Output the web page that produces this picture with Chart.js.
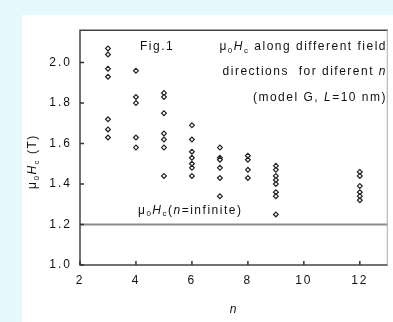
<!DOCTYPE html>
<html>
<head>
<meta charset="utf-8">
<script src="https://cdn.jsdelivr.net/npm/chart.js@4.4.1/dist/chart.umd.min.js"></script>
<style>
  html, body { margin: 0; padding: 0; width: 393px; height: 322px; overflow: hidden; background: #e3f9fb; }
  #panel { position: absolute; left: 22px; top: 15px; width: 371px; height: 307px; background: #fff; }
</style>
</head>
<body>
<div id="panel"><canvas id="chart" width="371" height="307"></canvas></div>
<script>
// ---- data ----
const nValues = [3, 4, 5, 6, 7, 8, 9, 12];
const hcN3  = [2.07, 2.04, 1.97, 1.93, 1.72, 1.67, 1.63];
const hcN4  = [1.96, 1.83, 1.80, 1.63, 1.58];
const hcN5  = [1.85, 1.83, 1.75, 1.65, 1.62, 1.58, 1.44];
const hcN6  = [1.69, 1.62, 1.56, 1.53, 1.50, 1.48, 1.44];
const hcN7  = [1.58, 1.53, 1.52, 1.48, 1.43, 1.34];
const hcN8  = [1.54, 1.52, 1.47, 1.43];
const hcN9  = [1.49, 1.47, 1.44, 1.42, 1.40, 1.36, 1.34, 1.25];
const hcN12 = [1.46, 1.44, 1.39, 1.36, 1.34, 1.32];
const hcByN = [hcN3, hcN4, hcN5, hcN6, hcN7, hcN8, hcN9, hcN12];
const hcInfinite = 1.2;           // mu0Hc for n = infinite
const xRange = [2, 13];
const yRange = [1.0, 2.16];
const xTicks = [2, 4, 6, 8, 10, 12];
const yTicks = [1.0, 1.2, 1.4, 1.6, 1.8, 2.0];

const FONT = "'Liberation Sans', Arial, sans-serif";
const ink = "#111";

// scatter points
const points = [];
nValues.forEach((n, i) => hcByN[i].forEach(v => points.push({ x: n, y: v })));

// draw a run of text pieces (sub / italic) starting at x
function runWidth(ctx, runs, size) {
  let w = 0;
  for (const r of runs) {
    ctx.font = `${r.it ? "italic " : ""}${r.sub ? Math.round(size * 0.65) : size}px ${FONT}`;
    w += ctx.measureText(r.t).width;
  }
  return w;
}
function drawRuns(ctx, x, y, runs, size, align) {
  const w = runWidth(ctx, runs, size);
  let cx = align === "right" ? x - w : align === "center" ? x - w / 2 : x;
  ctx.textBaseline = "middle";
  ctx.textAlign = "left";
  for (const r of runs) {
    ctx.font = `${r.it ? "italic " : ""}${r.sub ? Math.round(size * 0.65) : size}px ${FONT}`;
    ctx.fillText(r.t, cx, y + (r.sub ? size * 0.3 : 0));
    cx += ctx.measureText(r.t).width;
  }
}
const muHc = [{ t: "\u03bc" }, { t: "0", sub: true }, { t: "H", it: true }, { t: "c", sub: true }];

const framePlugin = {
  id: "frame",
  beforeDraw(chart) {
    chart.ctx.letterSpacing = "2px";
  },
  afterDraw(chart) {
    const { ctx, chartArea: a, scales: { x, y } } = chart;
    ctx.save();
    // frame
    ctx.lineWidth = 1.5;
    ctx.strokeStyle = "#444";
    ctx.beginPath();
    ctx.moveTo(a.right, a.top); ctx.lineTo(a.left, a.top);
    ctx.lineTo(a.left, a.bottom); ctx.lineTo(a.right, a.bottom);
    ctx.stroke();
    ctx.strokeStyle = "#aaa";
    ctx.lineWidth = 1;
    ctx.beginPath(); ctx.moveTo(a.right - 0.5, a.top); ctx.lineTo(a.right - 0.5, a.bottom); ctx.stroke();
    // inward ticks
    ctx.strokeStyle = "#333";
    ctx.lineWidth = 1.5;
    ctx.beginPath();
    xTicks.forEach(v => { const px = x.getPixelForValue(v); ctx.moveTo(px, a.bottom); ctx.lineTo(px, a.bottom - 4); });
    yTicks.forEach(v => { const py = y.getPixelForValue(v); ctx.moveTo(a.left, py); ctx.lineTo(a.left + 4, py); });
    ctx.stroke();

    ctx.fillStyle = ink;
    ctx.letterSpacing = "1.5px";
    // annotation block
    ctx.font = `12px ${FONT}`;
    ctx.textBaseline = "middle";
    ctx.textAlign = "left";
    ctx.fillText("Fig.1", 118, 32);
    drawRuns(ctx, 365, 32, [...muHc, { t: " along different field" }], 12, "right");
    drawRuns(ctx, 365, 57, [{ t: "directions  for diferent " }, { t: "n", it: true }], 12, "right");
    drawRuns(ctx, 365, 83, [{ t: "(model G, " }, { t: "L", it: true }, { t: "=10 nm)" }], 12, "right");
    // n = infinite label above the reference line
    drawRuns(ctx, 116, y.getPixelForValue(hcInfinite) - 14, [...muHc, { t: "(" }, { t: "n", it: true }, { t: "=infinite)" }], 12, "left");
    // axis titles
    drawRuns(ctx, (a.left + a.right) / 2, 295, [{ t: "n", it: true }], 12, "center");
    ctx.translate(11, (a.top + a.bottom) / 2 + 14);
    ctx.rotate(-Math.PI / 2);
    drawRuns(ctx, 0, 0, [...muHc, { t: " (T)" }], 12, "center");
    ctx.restore();
  }
};

new Chart(document.getElementById("chart").getContext("2d"), {
  type: "scatter",
  data: {
    datasets: [
      {
        type: "line", label: "n = infinite",
        data: [{ x: xRange[0], y: hcInfinite }, { x: xRange[1], y: hcInfinite }],
        borderColor: "#8c8c8c", borderWidth: 2, pointRadius: 0
      },
      {
        label: "mu0Hc", data: points,
        pointStyle: "rectRot", pointRadius: 2.4, borderWidth: 1.2,
        borderColor: "#222", backgroundColor: "#fff"
      }
    ]
  },
  options: {
    responsive: false,
    animation: false,
    events: [],
    layout: { padding: { top: 15, right: 1, left: 0, bottom: 0 } },
    plugins: { legend: { display: false }, tooltip: { enabled: false } },
    scales: {
      x: {
        type: "linear", position: "bottom", min: xRange[0], max: xRange[1],
        afterBuildTicks: s => { s.ticks = xTicks.map(v => ({ value: v })); },
        afterFit: s => { s.height = 57; },
        grid: { display: false, drawTicks: false }, border: { display: false },
        ticks: { padding: 8, color: ink, font: { family: FONT, size: 12 }, maxRotation: 0, autoSkip: false }
      },
      y: {
        type: "linear", min: yRange[0], max: yRange[1],
        afterBuildTicks: s => { s.ticks = yTicks.map(v => ({ value: v })); },
        afterFit: s => { s.width = 58; },
        grid: { display: false, drawTicks: false }, border: { display: false },
        ticks: { padding: 8, color: ink, font: { family: FONT, size: 12 }, autoSkip: false, callback: v => Number(v).toFixed(1) }
      }
    }
  },
  plugins: [framePlugin]
});
</script>
</body>
</html>
